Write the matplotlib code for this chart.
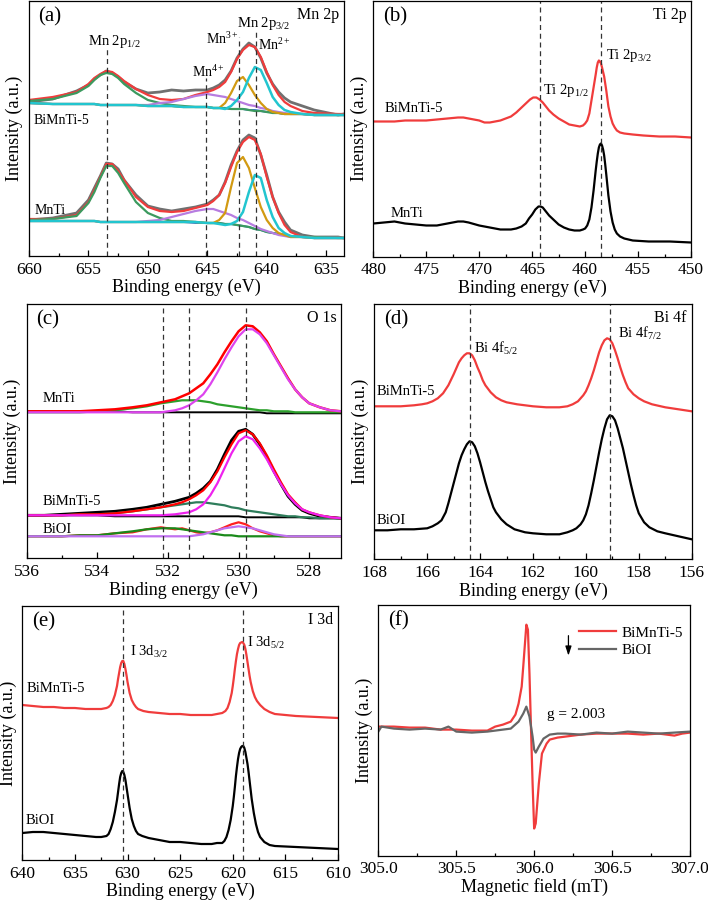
import matplotlib
matplotlib.use("Agg")
import matplotlib.pyplot as plt
from matplotlib.ticker import MultipleLocator

plt.rcParams['font.family'] = ['Liberation Serif', 'DejaVu Serif']
plt.rcParams['mathtext.fontset'] = 'custom'
plt.rcParams['mathtext.rm'] = 'Liberation Serif'
plt.rcParams['mathtext.it'] = 'Liberation Serif:italic'
plt.rcParams['mathtext.bf'] = 'Liberation Serif:bold'

# ---------------- (a) Mn 2p ----------------
mn_x = [660, 658, 656, 655, 654.5, 654, 653.5, 653, 652.5, 652, 651, 650, 649, 648, 647, 646, 645,
        644.5, 644, 643.5, 643, 642.5, 642, 641.5, 641, 640.5, 640, 639.5, 639, 638.5, 638, 637, 636, 634, 633.5]
# BiMnTi-5
mn5_raw = [154, 157, 165, 171, 177, 181, 185, 183, 179, 174, 167, 163, 164, 166, 165, 166, 166,
           168, 171, 176, 185, 198, 207, 213, 209, 198, 183, 172, 164, 158, 154, 150, 146, 141, 142]
mn5_fit = [156, 159, 164, 172, 178, 182, 185, 184, 180, 175, 167, 161, 157, 156, 157, 161, 164,
           166, 169, 174, 184, 197, 206, 211, 209, 199, 184, 171, 161, 154, 150, 145, 143, 142, 142]
mn5_p12 = [155, 157, 163, 170, 176, 181, 183, 182, 178, 172, 163, 156, 153, 151, 150, 149, 149,
           148, 148, 148, 147, 147, 147, 146, 145, 145, 144, 143, 143, 142, 142, 142, 141, 141, 141]
mn5_mn4 = [153, 152, 152, 152, 152, 151, 151, 151, 151, 151, 151, 151, 153, 154, 157, 160, 162,
           161, 160, 159, 157, 155, 153, 151, 150, 148, 147, 145, 144, 143, 142, 142, 141, 141, 141]
mn5_mn3 = [153, 152, 152, 152, 152, 151, 151, 151, 151, 151, 151, 150, 150, 150, 149, 149, 149,
           148, 148, 153, 163, 175, 179, 171, 161, 153, 147, 144, 143, 142, 142, 142, 141, 141, 141]
mn5_mn2 = [153, 152, 152, 152, 152, 151, 151, 151, 151, 151, 151, 150, 150, 150, 149, 149, 149,
           148, 148, 147, 150, 156, 164, 178, 189, 186, 173, 159, 151, 146, 144, 142, 141, 141, 141]
mn5_bg = [153, 152, 152, 152, 152, 151, 151, 151, 151, 151, 151, 150, 150, 150, 149, 149, 149,
          148, 148, 148, 147, 147, 147, 146, 146, 145, 144, 144, 143, 142, 142, 142, 141, 141, 141]
# MnTi
mnt_raw = [36, 38, 43, 56, 68, 80, 93, 92, 87, 76, 61, 50, 47, 45, 47, 49, 52,
           56, 61, 74, 91, 105, 116, 121, 118, 101, 81, 59, 44, 34, 26, 21, 19, 19, 18]
mnt_fit = [37, 37, 41, 54, 66, 79, 92, 92, 85, 76, 59, 49, 45, 44, 45, 48, 51,
           55, 61, 73, 89, 104, 114, 119, 116, 102, 79, 59, 43, 31, 24, 19, 18, 18, 18]
mnt_p12 = [36, 37, 40, 53, 64, 78, 90, 90, 83, 73, 54, 43, 38, 35, 35, 34, 33,
           33, 33, 32, 32, 31, 30, 29, 27, 26, 24, 23, 22, 21, 20, 19, 19, 18, 18]
mnt_mn4 = [35, 35, 35, 35, 35, 34, 34, 34, 34, 34, 34, 35, 36, 39, 42, 45, 47,
           47, 45, 43, 41, 38, 36, 33, 30, 27, 25, 23, 21, 20, 19, 19, 18, 18, 18]
mnt_mn3 = [35, 35, 35, 35, 35, 34, 34, 34, 34, 34, 34, 34, 34, 34, 34, 34, 33,
           33, 36, 43, 69, 93, 99, 88, 68, 49, 36, 28, 23, 21, 19, 19, 18, 18, 18]
mnt_mn2 = [35, 35, 35, 35, 35, 34, 34, 34, 34, 34, 34, 34, 34, 34, 34, 34, 33,
           33, 32, 31, 32, 35, 44, 64, 81, 78, 56, 39, 28, 23, 20, 19, 18, 18, 18]
mnt_bg = [35, 35, 35, 35, 35, 34, 34, 34, 34, 34, 34, 34, 34, 34, 34, 33, 33,
          33, 33, 32, 32, 31, 30, 29, 27, 26, 24, 23, 22, 21, 20, 19, 19, 18, 18]

# ---------------- (b) Ti 2p : (binding energy, intensity) ----------------
ti_bimnti5 = [(480, 135), (479, 135), (478, 135), (477, 136), (476, 136), (475, 136), (474, 137), (473, 138),
              (472, 139), (471.5, 139), (471, 138), (470.5, 137), (470, 136), (469.5, 134), (469, 134),
              (468.5, 135), (468, 136), (467.5, 138), (467, 140), (466.5, 144), (466, 149), (465.5, 154),
              (465.2, 157), (464.9, 159), (464.6, 159), (464.3, 157), (464, 154), (463.7, 150), (463.4, 146),
              (463, 142), (462.5, 138), (462, 135), (461.5, 132), (461, 131), (460.5, 130), (460.2, 131),
              (460.0, 133), (459.8, 136), (459.6, 143), (459.4, 156), (459.2, 169), (459.0, 182), (458.9, 189),
              (458.8, 194), (458.7, 196), (458.6, 195), (458.5, 193), (458.4, 189), (458.2, 180), (458.0, 166),
              (457.8, 150), (457.6, 140), (457.4, 133), (457.2, 129), (457.0, 126), (456.7, 124), (456.3, 123),
              (455.5, 122), (454.5, 121), (453, 120), (451.5, 120), (450, 119)]
ti_mnti = [(480, 33), (479, 34), (478, 35), (477, 33), (476, 32), (475, 31), (474, 31), (473, 33), (472, 35),
           (471.5, 35), (471, 34), (470, 31), (469, 29), (468, 27), (467, 27), (466.5, 28), (466, 30),
           (465.6, 33), (465.3, 38), (465, 42), (464.7, 47), (464.4, 50), (464.2, 50), (464, 49), (463.7, 45),
           (463.4, 41), (463, 37), (462.5, 32), (462, 29), (461.5, 27), (461, 26), (460.5, 26), (460.2, 27),
           (460.0, 28), (459.8, 31), (459.6, 37), (459.4, 49), (459.2, 66), (459.0, 86), (458.9, 95),
           (458.8, 103), (458.7, 109), (458.6, 112), (458.5, 113), (458.4, 111), (458.3, 107), (458.2, 101),
           (458.1, 92), (458.0, 82), (457.8, 61), (457.6, 45), (457.4, 34), (457.2, 27), (457.0, 23),
           (456.7, 20), (456.3, 18), (455.5, 16), (454, 15), (452, 15), (450, 14)]

# ---------------- (c) O 1s ----------------
o_x = [536, 535.5, 535, 534.5, 534, 533.5, 533, 532.6, 532.2, 531.8, 531.6, 531.4, 531.2, 531.0, 530.8, 530.6,
       530.4, 530.2, 530.0, 529.8, 529.6, 529.4, 529.2, 529.0, 528.8, 528.6, 528.4, 528.2, 528.0, 527.7, 527.4, 527.1]
ot_fit = [147, 147, 147, 147, 148, 149, 151, 153, 156, 159, 162, 165, 170, 175, 184, 194,
          206, 217, 227, 233, 232, 226, 217, 204, 192, 180, 169, 161, 155, 151, 148, 147]
ot_latt = [146, 146, 146, 146, 146, 146, 146, 146, 146, 148, 150, 153, 158, 164, 174, 186,
           199, 211, 222, 229, 229, 224, 215, 203, 191, 179, 169, 161, 155, 151, 148, 147]
ot_ads = [146, 146, 146, 146, 147, 148, 150, 152, 155, 157, 158, 158, 158, 157, 156, 154,
          153, 152, 151, 150, 149, 148, 148, 147, 147, 147, 146, 146, 146, 146, 146, 146]
ot_bg = [147, 147, 147, 147, 147, 147, 146, 146, 146, 146, 146, 146, 146, 146, 146, 146,
         146, 146, 146, 146, 146, 146, 145, 145, 145, 145, 145, 145, 145, 145, 145, 145]
o5_raw = [43, 43, 44, 45, 46, 47, 49, 51, 54, 57, 59, 61, 65, 70, 77, 89,
          104, 118, 127, 129, 124, 114, 101, 87, 74, 62, 54, 48, 45, 42, 41, 40]
o5_fit = [43, 43, 43, 44, 44, 45, 47, 49, 51, 54, 56, 59, 63, 68, 76, 87,
          101, 114, 125, 128, 124, 115, 103, 89, 76, 64, 56, 49, 46, 43, 41, 40]
o5_latt = [43, 43, 43, 43, 43, 43, 43, 43, 43, 44, 45, 46, 49, 54, 63, 75,
           90, 105, 117, 122, 119, 110, 99, 86, 74, 63, 55, 49, 46, 43, 41, 40]
o5_ads = [43, 43, 43, 44, 44, 45, 47, 49, 51, 53, 54, 55, 56, 56, 55, 54,
          53, 51, 50, 48, 47, 46, 45, 44, 43, 42, 42, 41, 41, 40, 40, 40]
o5_bg = [43, 43, 43, 43, 43, 42, 42, 42, 42, 42, 42, 42, 42, 42, 42, 42,
         42, 42, 42, 41, 41, 41, 41, 41, 41, 41, 41, 41, 40, 40, 40, 40]
oi_raw = [22, 22, 22, 23, 23, 25, 26, 29, 31, 29, 30, 28, 26, 25, 26, 28,
          31, 34, 36, 34, 30, 27, 25, 23, 22, 22, 22, 22, 22, 22, 22, 22]
oi_ads = [22, 22, 22, 23, 23, 25, 27, 29, 30, 30, 29, 28, 27, 26, 25, 24,
          23, 23, 22, 22, 22, 22, 22, 22, 22, 22, 22, 22, 22, 22, 22, 22]
oi_latt = [22, 22, 22, 22, 22, 22, 22, 22, 22, 22, 22, 22, 23, 24, 26, 28,
           30, 31, 32, 31, 30, 28, 26, 24, 23, 22, 22, 22, 22, 22, 22, 22]

# ---------------- (d) Bi 4f ----------------
bi_bimnti5 = [(168, 153), (167.5, 153), (167, 153), (166.5, 154), (166.2, 155), (166.0, 156), (165.8, 158),
              (165.6, 161), (165.4, 166), (165.2, 174), (165.0, 185), (164.9, 191), (164.8, 197), (164.7, 201),
              (164.6, 204), (164.5, 206), (164.4, 206), (164.3, 204), (164.2, 199), (164.1, 192), (164.0, 186),
              (163.9, 179), (163.8, 174), (163.6, 167), (163.4, 162), (163.2, 159), (163.0, 157), (162.6, 155),
              (162.0, 153), (161.5, 152), (161.0, 152), (160.7, 153), (160.5, 155), (160.3, 158), (160.1, 164),
              (160.0, 168), (159.9, 174), (159.8, 181), (159.7, 189), (159.6, 198), (159.5, 207), (159.4, 214),
              (159.3, 219), (159.2, 221), (159.1, 220), (159.0, 216), (158.9, 209), (158.8, 201), (158.7, 192),
              (158.6, 184), (158.5, 177), (158.4, 171), (158.2, 165), (158.0, 161), (157.8, 158), (157.5, 155),
              (157.0, 152), (156.5, 150), (156.0, 148)]
bi_bioi = [(168, 29), (167.5, 29), (167, 30), (166.5, 30), (166, 31), (165.8, 33), (165.6, 36), (165.46, 39),
           (165.3, 47), (165.2, 56), (165.1, 66), (165.0, 76), (164.9, 86), (164.8, 96), (164.7, 104),
           (164.6, 110), (164.5, 115), (164.4, 118), (164.3, 117), (164.2, 113), (164.1, 106), (164.0, 97),
           (163.9, 87), (163.8, 77), (163.7, 68), (163.6, 60), (163.5, 52), (163.4, 47), (163.2, 40), (163.0, 35),
           (162.7, 30), (162.3, 27), (162, 26), (161.5, 25), (161, 25), (160.7, 27), (160.5, 29), (160.36, 31),
           (160.2, 35), (160.1, 39), (160.0, 45), (159.9, 54), (159.8, 66), (159.7, 79), (159.6, 93),
           (159.5, 107), (159.4, 120), (159.3, 131), (159.2, 140), (159.1, 144), (159.0, 143), (158.9, 139),
           (158.8, 131), (158.7, 121), (158.6, 111), (158.5, 99), (158.4, 87), (158.3, 75), (158.2, 64),
           (158.1, 54), (158.0, 46), (157.8, 37), (157.6, 32), (157.3, 28), (157.0, 26), (156.5, 23), (156.0, 20)]

# ---------------- (e) I 3d ----------------
i_bimnti5 = [(640, 155), (639, 154), (638, 153), (637, 153), (636, 152), (635, 152), (634, 151), (633, 151),
             (632.5, 151), (632, 152), (631.8, 153), (631.6, 155), (631.4, 159), (631.2, 165), (631.0, 174),
             (630.9, 181), (630.8, 187), (630.7, 193), (630.6, 197), (630.5, 199), (630.4, 199), (630.3, 196),
             (630.2, 191), (630.1, 185), (630.0, 178), (629.8, 167), (629.6, 160), (629.4, 156), (629.2, 153),
             (629.0, 151), (628.5, 149), (628, 148), (627, 147), (626, 146), (625, 146), (624, 145), (623, 145),
             (622, 145), (621.5, 146), (621, 147), (620.7, 149), (620.5, 152), (620.3, 158), (620.1, 167),
             (620.0, 174), (619.9, 182), (619.8, 191), (619.7, 199), (619.6, 206), (619.5, 211), (619.4, 215),
             (619.3, 217), (619.1, 218), (619.0, 217), (618.9, 215), (618.8, 211), (618.7, 205), (618.6, 198),
             (618.5, 191), (618.4, 184), (618.3, 178), (618.1, 169), (617.9, 163), (617.7, 159), (617.4, 155),
             (617.0, 151), (616.5, 148), (616.0, 146), (615, 145), (614, 144), (612, 143), (610, 142)]
i_bioi = [(640, 27), (639, 28), (638, 28), (637, 27), (636, 26), (635, 25), (634, 24), (633, 23), (632.5, 23),
          (632, 24), (631.8, 26), (631.6, 31), (631.4, 38), (631.2, 48), (631.0, 60), (630.9, 68), (630.8, 76),
          (630.7, 83), (630.6, 87), (630.5, 89), (630.4, 88), (630.3, 85), (630.2, 80), (630.1, 73),
          (630.0, 66), (629.8, 52), (629.6, 41), (629.4, 34), (629.2, 29), (629.0, 26), (628.6, 24), (628, 22),
          (627, 20), (626, 18), (625, 18), (624, 17), (623, 16), (622, 16), (621.5, 17), (621, 17),
          (620.8, 19), (620.6, 23), (620.4, 30), (620.2, 40), (620.0, 54), (619.9, 63), (619.8, 73),
          (619.7, 84), (619.6, 93), (619.5, 101), (619.4, 107), (619.3, 111), (619.2, 113), (619.1, 114),
          (619.0, 114), (618.9, 112), (618.8, 108), (618.7, 102), (618.6, 96), (618.5, 88), (618.4, 79),
          (618.3, 70), (618.2, 61), (618.0, 47), (617.8, 36), (617.6, 28), (617.4, 23), (617.0, 18),
          (616.5, 15), (616, 14), (614, 13), (612, 12), (610, 11)]

# ---------------- (f) EPR ----------------
epr5_x = [305.0, 305.1, 305.2, 305.3, 305.4, 305.5, 305.6, 305.7, 305.75, 305.8, 305.85, 305.88, 305.9,
          305.92, 305.93, 305.95, 305.96, 305.97, 305.98, 305.99, 306.0, 306.01, 306.03, 306.05, 306.08,
          306.1, 306.15, 306.2, 306.3, 306.4, 306.5, 306.6, 306.7, 306.8, 306.9, 306.95, 307.0]
epr5_y = [129, 129, 128, 128, 126, 126, 125, 125, 129, 131, 134, 141, 152,
          169, 189, 231, 226, 182, 126, 72, 27, 32, 72, 102, 112,
          116, 118, 119, 121, 122, 122, 122, 121, 122, 120, 122, 123]
epro_x = [305.0, 305.02, 305.1, 305.2, 305.3, 305.4, 305.45, 305.5, 305.6, 305.7, 305.8, 305.85, 305.9,
          305.93, 305.95, 305.97, 305.99, 306.0, 306.01, 306.03, 306.06, 306.1, 306.15, 306.2, 306.3,
          306.4, 306.5, 306.6, 306.7, 306.8, 306.9, 307.0]
epro_y = [124, 129, 127, 126, 127, 126, 129, 124, 123, 124, 126, 127, 134,
          142, 149, 139, 119, 106, 103, 109, 117, 121, 122, 122, 121,
          123, 122, 124, 123, 122, 123, 124]

W, H = 708, 902
fig = plt.figure(figsize=(W / 100, H / 100), dpi=100)


def add_ax(l, t, r, b):
    return fig.add_axes([l / W, (H - b) / H, (r - l) / W, (b - t) / H])


def xy(pairs):
    return [p[0] for p in pairs], [p[1] for p in pairs]


def style(ax, xlim, ylim, major, minor, xlabel):
    ax.set_xlim(*xlim)
    ax.set_ylim(*ylim)
    ax.xaxis.set_major_locator(MultipleLocator(major))
    ax.xaxis.set_minor_locator(MultipleLocator(minor))
    ax.tick_params(axis='x', which='both', direction='in', top=False, labelsize=12.5, pad=4)
    ax.tick_params(axis='x', which='major', length=4, width=0.9)
    ax.tick_params(axis='x', which='minor', length=2.3, width=0.9)
    ax.set_yticks([])
    ax.set_xlabel(xlabel, fontsize=13, labelpad=1)
    ax.set_ylabel('Intensity (a.u.)', fontsize=13, labelpad=4)
    for s in ax.spines.values():
        s.set_linewidth(0.9)


def corner(ax, tag, name):
    ax.text(0.03, 0.975, tag, transform=ax.transAxes, fontsize=15, va='top', ha='left')
    ax.text(0.985, 0.975, name, transform=ax.transAxes, fontsize=11.5, va='top', ha='right')


dash = dict(color='#333333', lw=0.9, ls=(0, (4, 3)))
RED = '#f03c3c'

# (a)
ax = add_ax(29, 1, 344, 256)
for raw, fit, p12, mn4, mn3, mn2, bg in [
        (mn5_raw, mn5_fit, mn5_p12, mn5_mn4, mn5_mn3, mn5_mn2, mn5_bg),
        (mnt_raw, mnt_fit, mnt_p12, mnt_mn4, mnt_mn3, mnt_mn2, mnt_bg)]:
    ax.plot(mn_x, raw, color='#707070', lw=2.0)
    ax.plot(mn_x, fit, color=RED, lw=1.6)
    ax.plot(mn_x, bg, color='#3b6fd8', lw=1.4)
    ax.plot(mn_x, p12, color='#3c9a5f', lw=1.6)
    ax.plot(mn_x, mn4, color='#b77ce0', lw=1.6)
    ax.plot(mn_x, mn3, color='#d29a12', lw=1.6)
    ax.plot(mn_x, mn2, color='#22c5cf', lw=1.8)
ax.axvline(653.4, ymax=0.82, **dash)
ax.axvline(645.15, ymax=0.70, **dash)
ax.axvline(642.3, ymax=0.86, **dash)
ax.axvline(640.9, ymax=0.88, **dash)
style(ax, (660, 633.5), (0, 255), 5, 2.5, 'Binding energy (eV)')
corner(ax, '(a)', 'Mn 2p')
ax.text(652.8, 214, r'Mn 2p$_{\mathrm{1/2}}$', fontsize=10.5, ha='center', va='center')
ax.text(644.9, 184, r'Mn$^{\mathrm{4+}}$', fontsize=10, ha='center', va='center')
ax.text(643.7, 217, r'Mn$^{\mathrm{3+}}$', fontsize=10, ha='center', va='center')
ax.text(640.3, 233, r'Mn 2p$_{\mathrm{3/2}}$', fontsize=10.5, ha='center', va='center')
ax.text(639.4, 211, r'Mn$^{\mathrm{2+}}$', fontsize=10, ha='center', va='center')
ax.text(659.6, 135, 'BiMnTi-5', fontsize=10, ha='left', va='center')
ax.text(659.5, 46, 'MnTi', fontsize=10, ha='left', va='center')

# (b)
ax = add_ax(373.3, 0.5, 691, 256.5)
ax.plot(*xy(ti_bimnti5), color=RED, lw=1.6)
ax.plot(*xy(ti_mnti), color='black', lw=1.6)
ax.axvline(464.3, **dash)
ax.axvline(458.5, **dash)
style(ax, (480, 450), (0, 256), 5, 2.5, 'Binding energy (eV)')
corner(ax, '(b)', 'Ti 2p')
ax.text(464.0, 166, r'Ti 2p$_{\mathrm{1/2}}$', fontsize=10.5, ha='left', va='center')
ax.text(458.05, 201, r'Ti 2p$_{\mathrm{3/2}}$', fontsize=10.5, ha='left', va='center')
ax.text(478.9, 148, 'BiMnTi-5', fontsize=10.5, ha='left', va='center')
ax.text(478.4, 43, 'MnTi', fontsize=10.5, ha='left', va='center')

# (c)
ax = add_ax(26.7, 304, 341, 558.3)
ax.plot(o_x, ot_bg, color='black', lw=1.4)
ax.plot(o_x, ot_ads, color='#2ca02c', lw=1.6)
ax.plot(o_x, ot_fit, color='#ff0000', lw=1.8)
ax.plot(o_x, ot_latt, color='#dd44ee', lw=1.6)
ax.plot(o_x, o5_raw, color='black', lw=2.0)
ax.plot(o_x, o5_bg, color='black', lw=1.4)
ax.plot(o_x, o5_ads, color='#2e7d5b', lw=1.6)
ax.plot(o_x, o5_fit, color='#ff0000', lw=1.6)
ax.plot(o_x, o5_latt, color='#ee22ee', lw=1.6)
ax.plot(o_x, oi_raw, color='#ff2020', lw=1.6)
ax.plot(o_x, oi_ads, color='#1a8a1a', lw=1.6)
ax.plot(o_x, oi_latt, color='#c070f0', lw=1.6)
for e in [532.15, 531.4, 529.8]:
    ax.axvline(e, **dash)
style(ax, (536, 527.1), (0, 254.3), 2, 1, 'Binding energy (eV)')
corner(ax, '(c)', 'O 1s')
ax.text(535.55, 160, 'MnTi', fontsize=10.5, ha='left', va='center')
ax.text(535.55, 57, 'BiMnTi-5', fontsize=10.5, ha='left', va='center')
ax.text(535.55, 29, 'BiOI', fontsize=10.5, ha='left', va='center')

# (d)
ax = add_ax(374.3, 304, 691.7, 559.3)
ax.plot(*xy(bi_bimnti5), color=RED, lw=1.6)
ax.plot(*xy(bi_bioi), color='black', lw=1.6)
ax.axvline(164.38, **dash)
ax.axvline(159.08, **dash)
style(ax, (168, 156), (0, 255.3), 2, 1, 'Binding energy (eV)')
corner(ax, '(d)', 'Bi 4f')
ax.text(164.23, 211, r'Bi 4f$_{\mathrm{5/2}}$', fontsize=10.5, ha='left', va='center')
ax.text(158.79, 226, r'Bi 4f$_{\mathrm{7/2}}$', fontsize=10.5, ha='left', va='center')
ax.text(167.9, 168, 'BiMnTi-5', fontsize=10.5, ha='left', va='center')
ax.text(167.9, 39, 'BiOI', fontsize=10.5, ha='left', va='center')

# (e)
ax = add_ax(22.3, 606, 338, 860)
ax.plot(*xy(i_bimnti5), color=RED, lw=1.6)
ax.plot(*xy(i_bioi), color='black', lw=1.6)
ax.axvline(630.47, **dash)
ax.axvline(619.0, **dash)
style(ax, (640, 610), (0, 254), 5, 2.5, 'Binding energy (eV)')
corner(ax, '(e)', 'I 3d')
ax.text(629.8, 208, r'I 3d$_{\mathrm{3/2}}$', fontsize=10.5, ha='left', va='center')
ax.text(618.6, 217, r'I 3d$_{\mathrm{5/2}}$', fontsize=10.5, ha='left', va='center')
ax.text(639.6, 172, 'BiMnTi-5', fontsize=10.5, ha='left', va='center')
ax.text(639.7, 40, 'BiOI', fontsize=10.5, ha='left', va='center')

# (f)
ax = add_ax(378.3, 605, 690, 855.5)
ax.plot(epr5_x, epr5_y, color=RED, lw=1.6, label='BiMnTi-5')
ax.plot(epro_x, epro_y, color='#666666', lw=1.6, label='BiOI')
style(ax, (305, 307), (0, 250.7), 0.5, 0.25, 'Magnetic field (mT)')
ax.xaxis.set_major_formatter(plt.FormatStrFormatter('%.1f'))
ax.text(0.03, 0.975, '(f)', transform=ax.transAxes, fontsize=15, va='top', ha='left')
ax.annotate('', xy=(306.22, 200), xytext=(306.22, 220),
            arrowprops=dict(arrowstyle='-|>,head_width=0.18,head_length=0.55', color='black',
                            lw=0.9, shrinkA=0, shrinkB=0))
ax.text(306.08, 141, 'g = 2.003', fontsize=11, ha='left', va='center')
ax.legend(loc='upper left', bbox_to_anchor=(0.625, 0.94), frameon=False, fontsize=11,
          handlelength=2.4, handletextpad=0.4, labelspacing=0.25, borderaxespad=0)

fig.savefig('out.png', dpi=100)
